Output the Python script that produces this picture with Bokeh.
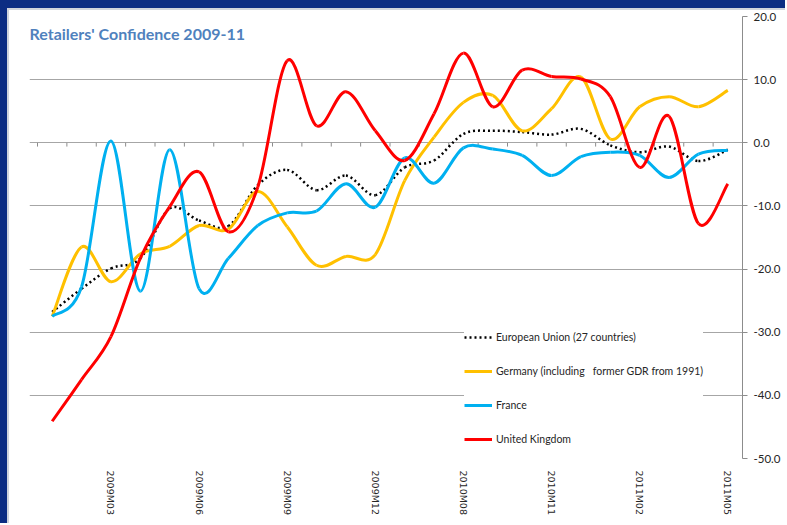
import numpy as np
from bokeh.plotting import figure
from bokeh.models import (ColumnDataSource, FixedTicker, PrintfTickFormatter,
                          Label, Range1d)
from bokeh.embed import file_html
from bokeh.resources import INLINE

# ---- data ----
months = ["2009M01", "2009M02", "2009M03", "2009M04", "2009M05", "2009M06",
          "2009M07", "2009M08", "2009M09", "2009M10", "2009M11", "2009M12",
          "2010M06", "2010M07", "2010M08", "2010M09", "2010M10", "2010M11",
          "2010M12", "2011M01", "2011M02", "2011M03", "2011M04", "2011M05"]
label_every = 3

eu = [-26.8, -23.1, -19.9, -18.3, -10.4, -12.3, -13.2, -6.7, -4.3, -7.5, -5.2, -8.3,
      -3.9, -2.8, 1.4, 1.9, 1.7, 1.3, 2.2, -0.4, -1.5, -0.6, -2.9, -1.1]
germany = [-27.5, -16.5, -22.0, -17.6, -16.4, -13.1, -13.7, -7.7, -13.3, -19.4, -18.0, -17.7,
           -6.0, 0.9, 6.4, 7.5, 1.9, 5.4, 10.4, 0.6, 5.7, 7.3, 5.7, 8.3]
france = [-27.5, -22.8, 0.3, -23.5, -1.1, -23.1, -18.3, -13.1, -11.1, -10.8, -6.5, -10.2,
          -2.4, -6.4, -0.8, -1.0, -2.0, -5.2, -2.2, -1.5, -2.0, -5.5, -1.8, -1.2]
uk = [-44.1, -37.5, -30.7, -18.3, -10.1, -4.6, -14.1, -7.0, 13.0, 2.7, 8.1, 1.9,
      -2.8, 4.6, 14.2, 5.7, 11.5, 10.5, 10.1, 7.3, -3.9, 4.2, -12.8, -6.5]

series_names = ["European Union (27 countries)",
                "Germany (including   former GDR from 1991)",
                "France",
                "United Kingdom"]
y_ticks = [20, 10, 0, -10, -20, -30, -40, -50]


def smooth_source(values):
    """Cubic Bezier segments through the data points (Excel-style smoothing)."""
    x = np.arange(len(values), dtype=float)
    y = np.asarray(values, dtype=float)
    n = len(y)
    xp = np.concatenate([[x[0]], x, [x[-1]]])
    yp = np.concatenate([[y[0]], y, [y[-1]]])
    i = np.arange(n - 1)
    cx0 = x[i] + (xp[i + 2] - xp[i]) / 6.0
    cy0 = y[i] + (yp[i + 2] - yp[i]) / 6.0
    cx1 = x[i + 1] - (xp[i + 3] - xp[i + 1]) / 6.0
    cy1 = y[i + 1] - (yp[i + 3] - yp[i + 1]) / 6.0
    return ColumnDataSource(dict(x0=x[i], y0=y[i], x1=x[i + 1], y1=y[i + 1],
                                 cx0=cx0, cy0=cy0, cx1=cx1, cy1=cy1))


n = len(months)
cat_w = 705 / n
x_start = -0.5 - 8 / cat_w   # 8 px of headroom on the left for the title

p = figure(width=785, height=523, output_backend="svg", toolbar_location=None,
           x_range=Range1d(x_start, n - 0.5), y_range=Range1d(-50, 20),
           y_axis_location="right",
           min_border_left=29, min_border_right=43, min_border_top=16,
           min_border_bottom=65,
           styles={"box-shadow": "inset 7px 8px 0 0 #0c2d83, inset 9px 10px 0 0 #d0d4dc",
                   "background-color": "white"})
p.outline_line_color = None
p.background_fill_color = "white"
p.border_fill_alpha = 0

# grid
p.xgrid.grid_line_color = None
p.ygrid.ticker = FixedTicker(ticks=y_ticks)
p.ygrid.grid_line_color = "#a6a6a6"
p.ygrid.grid_line_width = 1

# right value axis
ya = p.yaxis[0]
ya.ticker = FixedTicker(ticks=y_ticks)
ya.formatter = PrintfTickFormatter(format="%.1f")
ya.axis_line_color = "#8c8c8c"
ya.major_tick_line_color = "#8c8c8c"
ya.major_tick_out = 5
ya.major_tick_in = 0
ya.minor_tick_line_color = None
ya.major_label_standoff = 6
ya.major_label_text_font = "Lato"
ya.major_label_text_font_size = "11.5px"
ya.major_label_text_color = "#262626"

# bottom category axis (labels only)
xa = p.xaxis[0]
label_idx = list(range(label_every - 1, n, label_every))
xa.ticker = FixedTicker(ticks=label_idx)
xa.major_label_overrides = {i: months[i] for i in label_idx}
xa.major_label_orientation = "vertical"
xa.axis_line_color = None
xa.major_tick_line_color = None
xa.minor_tick_line_color = None
xa.major_label_standoff = 6
xa.major_label_text_font = "DejaVu Sans"
xa.major_label_text_font_size = "9.5px"
xa.major_label_text_color = "#262626"

# category boundary ticks on the zero line
bounds = np.arange(n + 1) - 0.5
p.segment(x0=bounds, y0=np.zeros(n + 1), x1=bounds, y1=np.full(n + 1, -0.6),
          line_color="#8c8c8c", line_width=1)

# series
common = dict(x0="x0", y0="y0", x1="x1", y1="y1", cx0="cx0", cy0="cy0", cx1="cx1", cy1="cy1")
p.bezier(source=smooth_source(eu), line_color="black", line_width=2.5,
         line_dash="2 3", legend_label=series_names[0], **common)
p.bezier(source=smooth_source(germany), line_color="#ffc000", line_width=3,
         legend_label=series_names[1], **common)
p.bezier(source=smooth_source(france), line_color="#00b0f0", line_width=3,
         legend_label=series_names[2], **common)
p.bezier(source=smooth_source(uk), line_color="#ff0000", line_width=3,
         legend_label=series_names[3], **common)

# legend
lg = p.legend[0]
lg.location = (435, 9)
lg.border_line_color = None
lg.background_fill_color = "white"
lg.background_fill_alpha = 1
lg.padding = 6
lg.margin = 0
lg.spacing = 14
lg.glyph_width = 28
lg.glyph_height = 20
lg.label_height = 20
lg.label_standoff = 4
lg.label_text_font = "Lato"
lg.label_text_font_size = "10.5px"
lg.label_text_color = "#262626"

# title inside the chart area
title = Label(x=x_start, y=20, y_offset=-17, text="Retailers' Confidence 2009-11",
              text_font="Lato", text_font_style="bold", text_font_size="16px",
              text_color="#4f81bd", text_baseline="alphabetic")
p.add_layout(title)

open("out.html", "w").write(file_html(p, INLINE))
